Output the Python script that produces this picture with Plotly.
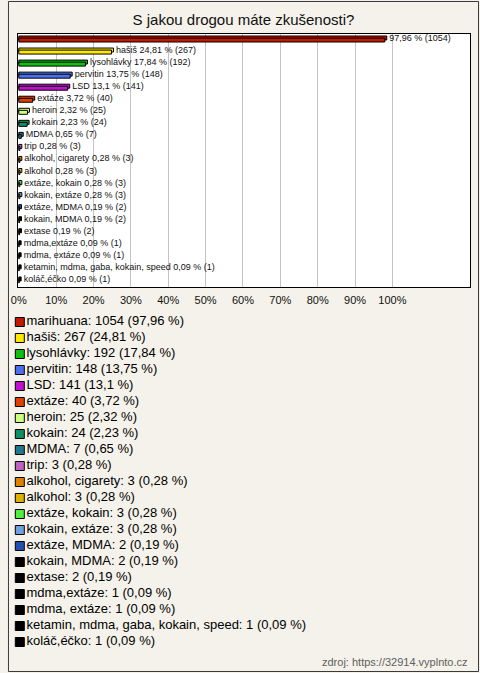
import plotly.graph_objects as go

# ---- data ----
categories = ["marihuana", "hašiš", "lysohlávky", "pervitin", "LSD", "extáze", "heroin",
              "kokain", "MDMA", "trip", "alkohol, cigarety", "alkohol", "extáze, kokain",
              "kokain, extáze", "extáze, MDMA", "kokain, MDMA", "extase", "mdma,extáze",
              "mdma, extáze", "ketamin, mdma, gaba, kokain, speed", "koláč,éčko"]
counts = [1054, 267, 192, 148, 141, 40, 25, 24, 7, 3, 3, 3, 3, 3, 2, 2, 2, 1, 1, 1, 1]
percents = [97.96, 24.81, 17.84, 13.75, 13.1, 3.72, 2.32, 2.23, 0.65, 0.28, 0.28, 0.28,
            0.28, 0.28, 0.19, 0.19, 0.19, 0.09, 0.09, 0.09, 0.09]
colors = ["#c01a00", "#ffe800", "#10c010", "#4a70f0", "#c010d0", "#e04000", "#ccff80",
          "#109060", "#207890", "#c060c0", "#e08000", "#e0b000", "#50f040", "#70a0e0",
          "#2050b0", "#000000", "#000000", "#000000", "#000000", "#000000", "#000000"]
tick_values = [0, 10, 20, 30, 40, 50, 60, 70, 80, 90, 100]
tick_labels = ["0%", "10%", "20%", "30%", "40%", "50%", "60%", "70%", "80%", "90%", "100%"]
title_text = "S jakou drogou máte zkušenosti?"
source_text = "zdroj: https://32914.vyplnto.cz"

W, H = 480, 673
FONT = "Arial, Liberation Sans, sans-serif"
BG = "#f4f2ea"
DEPTH_X = 0.53      # 3-D depth of the bars, in axis percent units (~2 px)
DEPTH_Y = 0.17      # 3-D depth of the bars, in category units (~2 px)
BAR_W = 0.33


def fmt(p):
    return str(p).replace(".", ",")


bar_labels = []
for i, (c, n, p) in enumerate(zip(categories, counts, percents)):
    if i == 0:
        bar_labels.append(f" {fmt(p)} % ({n})")
    else:
        bar_labels.append(f" {c} {fmt(p)} % ({n})")
legend_labels = [f"{c}: {n} ({fmt(p)} %)" for c, n, p in zip(categories, counts, percents)]


def px_x(v):
    return v / W


def px_y(v):
    return 1 - v / H


fig = go.Figure()

# back face of the pseudo 3-D bars (carries the value labels)
fig.add_trace(go.Bar(
    x=[p + DEPTH_X for p in percents], y=categories, orientation="h",
    marker=dict(color=colors, line=dict(color="black", width=1)),
    width=BAR_W, offset=-BAR_W / 2 - DEPTH_Y,
    text=bar_labels, textposition="outside", constraintext="none",
    textfont=dict(family=FONT, size=9, color="#111"),
    cliponaxis=False, hoverinfo="skip", showlegend=False,
    xaxis="x", yaxis="y",
))
# front face
fig.add_trace(go.Bar(
    x=percents, y=categories, orientation="h",
    marker=dict(color=colors, line=dict(color="black", width=1)),
    width=BAR_W, offset=-BAR_W / 2,
    cliponaxis=False, hoverinfo="skip", showlegend=False,
    xaxis="x", yaxis="y",
))

# custom legend drawn as a scatter on hidden axes
fig.add_trace(go.Scatter(
    x=[0] * len(categories), y=categories, mode="markers+text",
    marker=dict(symbol="square", size=9, color=colors, line=dict(color="black", width=1)),
    text=legend_labels, textposition="middle right",
    textfont=dict(family=FONT, size=13, color="black"),
    cliponaxis=False, hoverinfo="skip", showlegend=False,
    xaxis="x2", yaxis="y2",
))

fig.update_layout(
    width=W, height=H,
    margin=dict(l=0, r=0, t=0, b=0),
    paper_bgcolor=BG, plot_bgcolor="rgba(0,0,0,0)",
    font=dict(family=FONT, color="black"),
    showlegend=False,
    barmode="overlay",
    title=dict(text=title_text, x=0.5, xanchor="center", xref="paper",
               y=px_y(20), yanchor="middle", yref="paper",
               font=dict(family=FONT, size=15, color="#111")),
    xaxis=dict(domain=[px_x(11), px_x(470)], range=[-0.26, 120.8],
               tickvals=tick_values, ticktext=tick_labels,
               tickfont=dict(family=FONT, size=11, color="#111"),
               showgrid=True, gridcolor="#c4c4c4", gridwidth=1,
               zeroline=False, showline=True, linecolor="black", linewidth=1, mirror=True,
               ticks="", ticklabelstandoff=3, fixedrange=True),
    yaxis=dict(domain=[px_y(287), px_y(34)], type="category",
               categoryorder="array", categoryarray=categories,
               range=[len(categories) - 0.5, -0.5],
               showticklabels=False, showgrid=False, zeroline=False,
               showline=True, linecolor="black", linewidth=1, mirror=True,
               ticks="", fixedrange=True),
    xaxis2=dict(domain=[0, 1], range=[-13, W - 13], visible=False,
                anchor="y2", fixedrange=True),
    yaxis2=dict(domain=[px_y(650), px_y(314)], type="category",
                categoryorder="array", categoryarray=categories,
                range=[len(categories) - 0.5, -0.5], visible=False,
                anchor="x2", fixedrange=True),
    shapes=[
        dict(type="rect", xref="x domain", yref="y domain", x0=0, x1=1, y0=0, y1=1,
             fillcolor="white", line=dict(width=0), layer="below"),
        dict(type="rect", xref="paper", yref="paper",
             x0=px_x(1.5), x1=px_x(478.5), y0=px_y(671.5), y1=px_y(1.5),
             line=dict(color="#3a3a3a", width=1), fillcolor="rgba(0,0,0,0)"),
    ],
    annotations=[
        dict(text=source_text, xref="paper", yref="paper", x=px_x(470), y=px_y(662),
             xanchor="right", yanchor="middle", showarrow=False,
             font=dict(family=FONT, size=11, color="#606060")),
    ],
)

fig.write_html(
    "out.html",
    config={"displayModeBar": False},
    post_script="document.body.style.margin='0';document.body.style.overflow='hidden';",
)
